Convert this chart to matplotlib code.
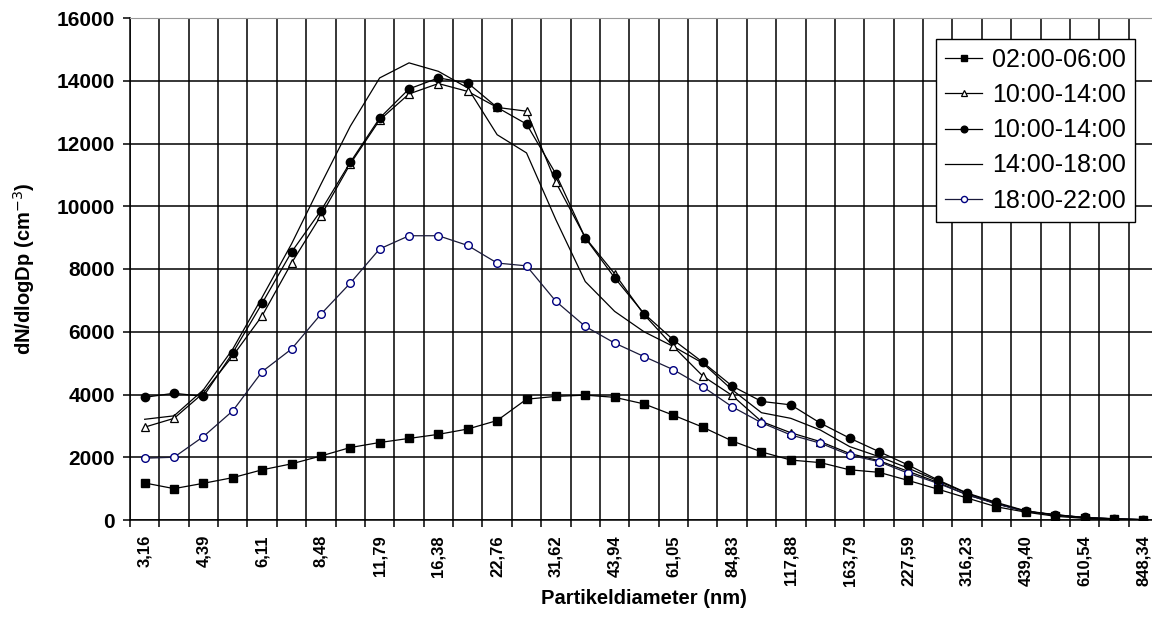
import numpy as np
import matplotlib
matplotlib.use("Agg")
import matplotlib.pyplot as plt

# Größenklassen (nm) – nur jede zweite Klasse wird beschriftet
tick_labels = ["3,16", "4,39", "6,11", "8,48", "11,79", "16,38", "22,76", "31,62",
               "43,94", "61,05", "84,83", "117,88", "163,79", "227,59", "316,23",
               "439,40", "610,54", "848,34"]
n_classes = 35

# Mittlere Anzahlverteilungen dN/dlogDp (cm^-3) je Zeitfenster
s_0206 = [1180, 1000, 1170, 1350, 1600, 1790, 2040, 2310, 2470, 2600, 2730, 2900,
          3170, 3850, 3940, 3980, 3910, 3700, 3340, 2960, 2520, 2170, 1910, 1830,
          1600, 1520, 1260, 985, 700, 420, 250, 120, 50, 20, 10]
s_1014a = [2960, 3240, 4050, 5230, 6510, 8190, 9700, 11350, 12750, 13580, 13910, 13660,
           13150, 13030, 10760, 9000, 7850, 6550, 5530, 4590, 3970, 3140, 2780, 2500,
           2120, 1890, 1550, 1200, 800, 520, 280, 160, 75, 35, 10]
s_1014b = [3910, 4040, 3940, 5330, 6910, 8540, 9860, 11400, 12810, 13740, 14090, 13930,
           13150, 12620, 11030, 8990, 7720, 6580, 5740, 5030, 4270, 3780, 3670, 3090,
           2610, 2180, 1750, 1280, 860, 560, 290, 170, 80, 40, 12]
s_1418 = [3210, 3320, 4150, 5450, 7100, 8800, 10700, 12550, 14090, 14570, 14300, 13770,
          12280, 11700, 9570, 7600, 6650, 6000, 5530, 5000, 4150, 3420, 3240, 2870,
          2340, 2020, 1650, 1250, 850, 520, 280, 160, 75, 35, 10]
s_1822 = [1970, 2000, 2660, 3480, 4730, 5450, 6560, 7550, 8640, 9060, 9060, 8750,
          8190, 8100, 6970, 6170, 5640, 5210, 4790, 4250, 3610, 3100, 2710, 2450,
          2070, 1860, 1490, 1170, 810, 510, 270, 170, 80, 40, 10]

x = np.arange(n_classes)

fig = plt.figure(figsize=(11.52, 6.23), dpi=100)
ax = fig.add_axes([130 / 1152, 103 / 623, 1028 / 1152, 502 / 623])

lw = 0.9
ax.plot(x, s_0206, color="black", lw=lw, marker="s", ms=5.5, mfc="black", mec="black",
        label="02:00-06:00", zorder=5)
ax.plot(x, s_1014a, color="black", lw=lw, marker="^", ms=6, mfc="white", mec="black",
        mew=0.9, label="10:00-14:00", zorder=4)
ax.plot(x, s_1014b, color="black", lw=lw, marker="o", ms=6, mfc="black", mec="black",
        label="10:00-14:00", zorder=5)
ax.plot(x, s_1418, color="black", lw=lw, label="14:00-18:00", zorder=3)
ax.plot(x, s_1822, color="#1a1a3a", lw=lw, marker="o", ms=5.5, mfc="white", mec="#000080",
        mew=1.0, label="18:00-22:00", zorder=4)

ax.set_xlim(-0.5, n_classes - 0.5)
ax.set_ylim(0, 16000)

# Gitter: senkrechte Linien an den Klassengrenzen, waagerechte alle 2000
ax.set_yticks(np.arange(0, 16001, 2000))
ax.set_xticks(np.arange(-0.5, n_classes, 1.0), minor=False)
ax.set_xticklabels([])
ax.grid(True, which="major", color="black", lw=1.1)
ax.set_axisbelow(True)
for i, lab in zip(range(0, n_classes, 2), tick_labels):
    ax.text(i, -0.030, lab, transform=ax.get_xaxis_transform(), rotation=90,
            ha="center", va="top", fontsize=12, fontweight="bold", family="Liberation Sans")

ax.tick_params(axis="both", direction="out", length=5, width=1.1, color="black")
ax.tick_params(axis="y", labelsize=15, pad=6)
for t in ax.get_yticklabels():
    t.set_fontweight("bold")
    t.set_family("Liberation Sans")

for side in ["left", "bottom"]:
    ax.spines[side].set_color("black")
    ax.spines[side].set_linewidth(1.1)
ax.spines["top"].set_color("#999999")
ax.spines["right"].set_visible(False)

ax.set_xlabel("Partikeldiameter (nm)", fontsize=14.5, fontweight="bold",
              family="Liberation Sans", labelpad=41)
ax.set_ylabel("dN/dlogDp (cm$^{-3}$)", fontsize=14.5, fontweight="bold",
              family="Liberation Sans", labelpad=14)

leg = ax.legend(loc="upper left", bbox_to_anchor=(806 / 1028, 1 - 21 / 502),
                prop={"family": "Liberation Sans", "size": 18}, frameon=True,
                fancybox=False, edgecolor="black", framealpha=1, borderpad=0.35,
                labelspacing=0.45, handlelength=1.5, handletextpad=0.4, markerscale=0.8,
                borderaxespad=0)
leg.get_frame().set_linewidth(1.0)

fig.savefig("out.png", dpi=100, facecolor="white")
